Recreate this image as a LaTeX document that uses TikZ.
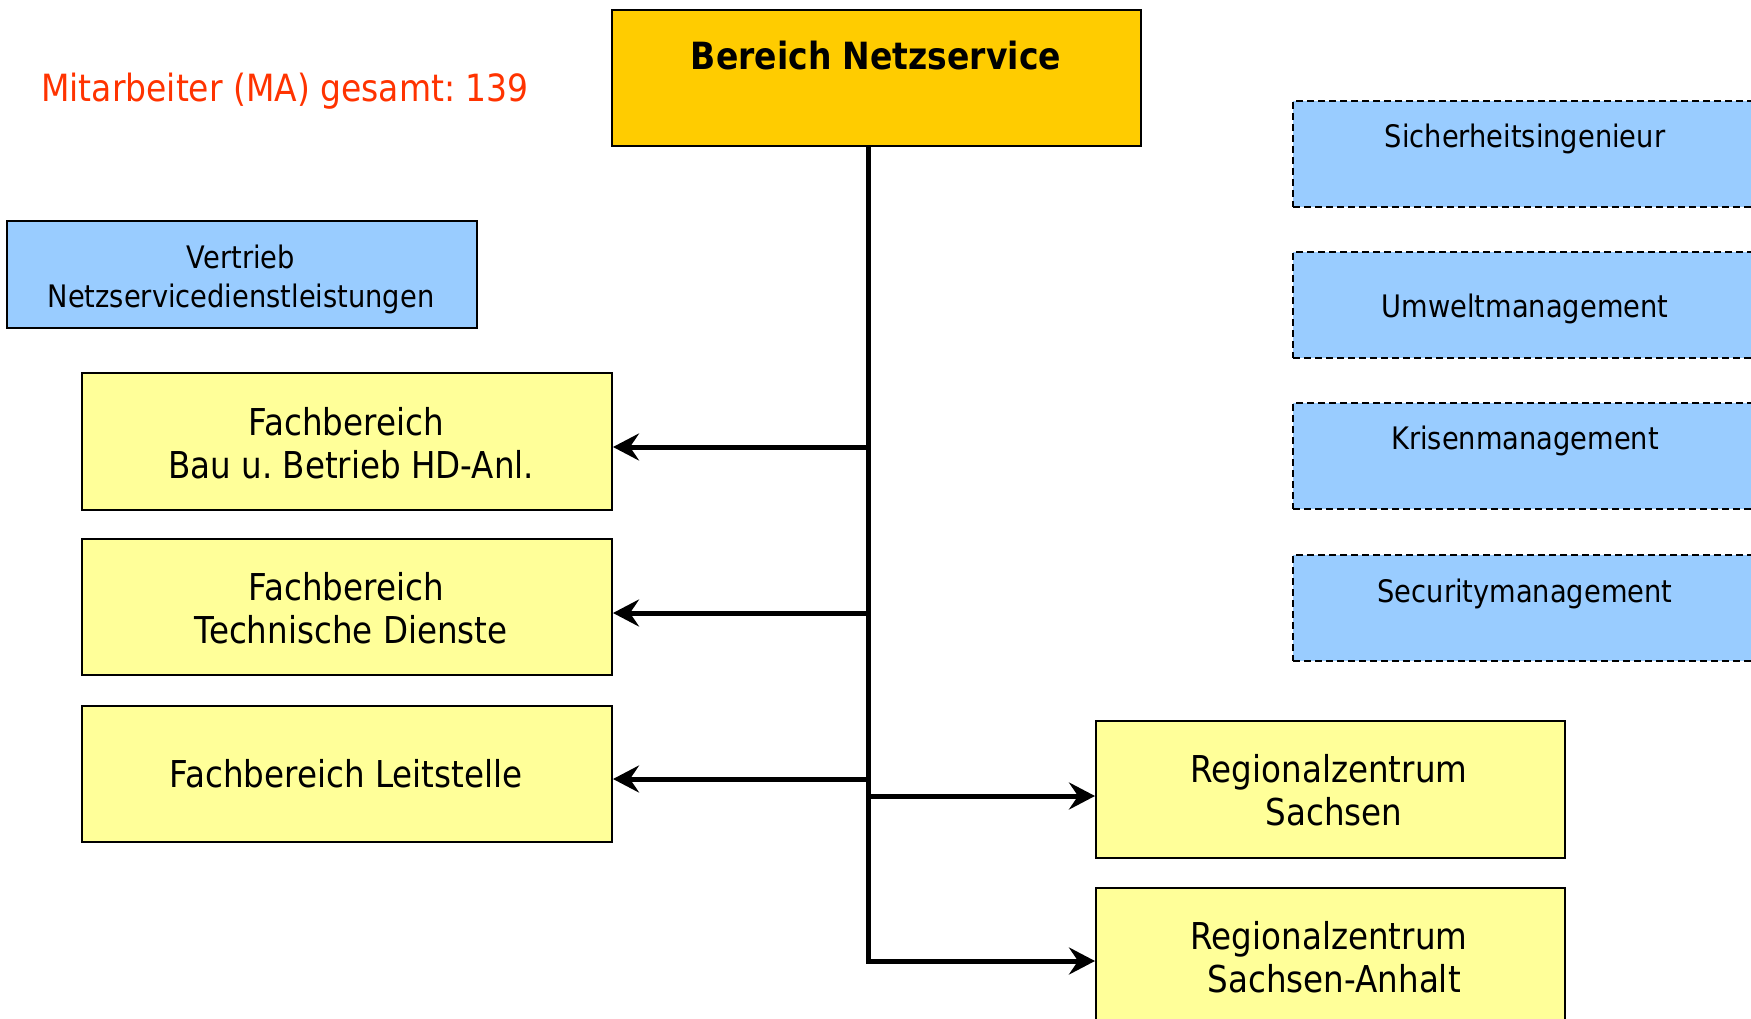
\documentclass[tikz,border=0pt]{standalone}
\usepackage{fontspec}
\setmainfont[FakeStretch=0.88]{DejaVu Sans}
\usetikzlibrary{arrows.meta}
\frenchspacing
\definecolor{topfill}{HTML}{FFCC00}
\definecolor{yfill}{HTML}{FFFF99}
\definecolor{bfill}{HTML}{99CCFF}
\definecolor{redtxt}{HTML}{FF3300}
\tikzset{
  box/.style={draw=black, line width=2pt, rectangle, inner sep=0pt, anchor=north west},
  ybox/.style={box, fill=yfill},
  bbox/.style={box, fill=bfill},
  dbox/.style={box, fill=bfill, dash pattern=on 7pt off 4pt},
  bigtxt/.style={align=center, inner sep=0pt, font=\fontsize{37}{43.5}\selectfont},
  smalltxt/.style={align=center, inner sep=0pt, font=\fontsize{31}{39}\selectfont},
  trunk/.style={line width=5pt},
  arr/.style={line width=5pt, -{Stealth[length=26pt, width=27pt, inset=9pt]}}
}
\newcommand{\lead}{\mbox{}\space}
\begin{document}
\begin{tikzpicture}[x=1pt, y=-1pt]
\useasboundingbox (0,0) rectangle (1751,1019);
\clip (0,0) rectangle (1751,1019);
% title
\node[box, fill=topfill, minimum width=529pt, minimum height=136pt] (top) at (611,9) {};
\node[inner sep=0pt, font=\fontsize{37.5}{44}\selectfont\bfseries] (topt) at (876,56) {Bereich Netzservice};
% red note
\node[inner sep=0pt, anchor=west, text=redtxt, font=\fontsize{37.5}{44}\selectfont] (note) at (41,91.5) {Mitarbeiter (MA) gesamt: 139};
% Vertrieb
\node[bbox, minimum width=470pt, minimum height=107pt] (vert) at (6,220) {};
\node[smalltxt] (vertt) at (241,279) {Vertrieb\\Netzservicedienstleistungen};
% left yellow boxes
\node[ybox, minimum width=530pt, minimum height=137pt] (bau) at (81,372) {};
\node[bigtxt] (baut) at (346,443) {Fachbereich\\\lead Bau u. Betrieb HD-Anl.};
\node[ybox, minimum width=530pt, minimum height=136pt] (tech) at (81,538) {};
\node[bigtxt] (techt) at (346,608) {Fachbereich\\\lead Technische Dienste};
\node[ybox, minimum width=530pt, minimum height=136pt] (leit) at (81,705) {};
\node[bigtxt] (leitt) at (346,774) {Fachbereich Leitstelle};
% right yellow boxes
\node[ybox, minimum width=469pt, minimum height=137pt] (rzs) at (1095,720) {};
\node[bigtxt] (rzst) at (1329,790) {Regionalzentrum\\\lead Sachsen};
\node[ybox, minimum width=469pt, minimum height=160pt] (rzsa) at (1095,887) {};
\node[bigtxt] (rzsat) at (1329,957) {Regionalzentrum\\\lead Sachsen-Anhalt};
% dashed blue boxes
\node[dbox, minimum width=480pt, minimum height=106pt] (sich) at (1292,100) {};
\node[smalltxt] (sicht) at (1525,138.5) {Sicherheitsingenieur};
\node[dbox, minimum width=480pt, minimum height=106pt] (umw) at (1292,251) {};
\node[smalltxt] (umwt) at (1525,308.5) {Umweltmanagement};
\node[dbox, minimum width=480pt, minimum height=106pt] (kris) at (1292,402) {};
\node[smalltxt] (krist) at (1525,440.5) {Krisenmanagement};
\node[dbox, minimum width=480pt, minimum height=106pt] (sec) at (1292,554) {};
\node[smalltxt] (sect) at (1525,593.5) {Securitymanagement};
% trunk and connectors
\coordinate (tend) at (868,963);
\draw[trunk] (top.south -| tend) -- (tend);
\coordinate (j1) at (868,447);
\coordinate (j2) at (868,613);
\coordinate (j3) at (868,779);
\coordinate (j4) at (866,796);
\coordinate (j5) at (866,961);
\draw[arr] (j1) -- (j1 -| bau.east);
\draw[arr] (j2) -- (j2 -| tech.east);
\draw[arr] (j3) -- (j3 -| leit.east);
\draw[arr] (j4) -- (j4 -| rzs.west);
\draw[arr] (j5) -- (j5 -| rzsa.west);
\end{tikzpicture}
\end{document}
